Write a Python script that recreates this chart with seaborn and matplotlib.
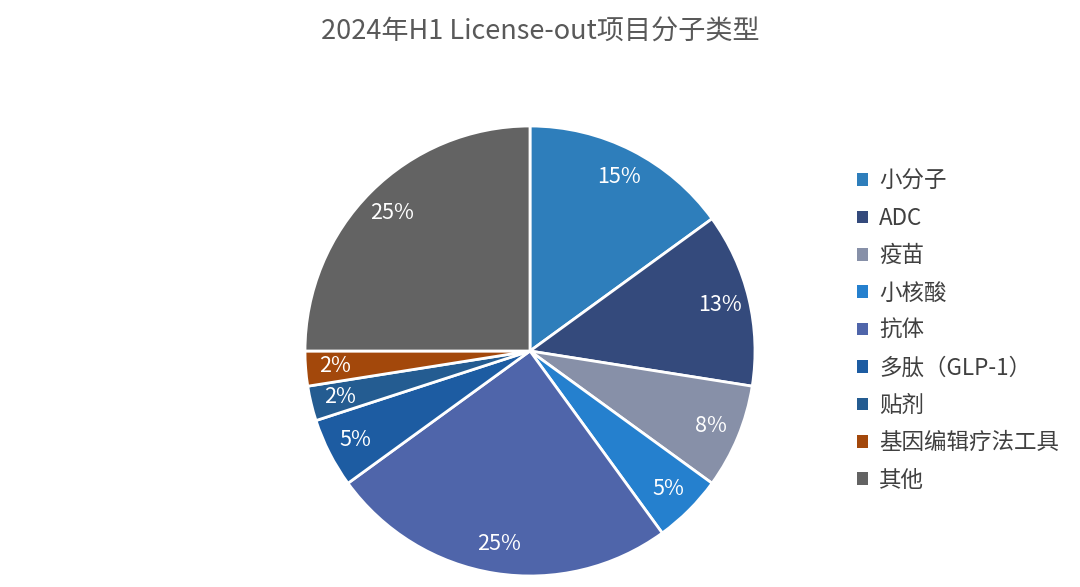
import matplotlib
matplotlib.use("Agg")
import matplotlib.pyplot as plt
from matplotlib.patches import Patch
import seaborn as sns
import math

categories = ["小分子", "ADC", "疫苗", "小核酸", "抗体", "多肽（GLP-1）", "贴剂", "基因编辑疗法工具", "其他"]
counts = [6, 5, 3, 2, 10, 2, 1, 1, 10]
pct_labels = ["15%", "13%", "8%", "5%", "25%", "5%", "2%", "2%", "25%"]
colors_hex = ["#2E7EBB", "#344A7C", "#8790A8", "#2580CE", "#4F65AA", "#1D5CA2", "#245C91", "#A3480B", "#636363"]
title = "2024年H1 License-out项目分子类型"

sns.set_theme(style="white")
plt.rcParams['font.family'] = ['Noto Sans CJK SC', 'DejaVu Sans']
palette = sns.color_palette(colors_hex)

fig = plt.figure(figsize=(10.8, 5.87), dpi=100)
W, H = 1080, 587
cx, cy, r = 530, 351, 225
ax = fig.add_axes([(cx - r) / W, (H - cy - r) / H, 2 * r / W, 2 * r / H])

wedges, _ = ax.pie(counts, colors=palette, startangle=90, counterclock=False,
                   radius=1.0, wedgeprops=dict(edgecolor="white", linewidth=2))
total = sum(counts)
ang = 90.0
for w, c, lab in zip(wedges, counts, pct_labels):
    span = 360.0 * c / total
    mid = math.radians(ang - span / 2)
    ang -= span
    ax.text(0.87 * math.cos(mid), 0.87 * math.sin(mid), lab, ha="center", va="center",
            color="white", fontsize=15.5)
ax.set_xlim(-1, 1)
ax.set_ylim(-1, 1)
ax.set_aspect("equal")
ax.axis("off")

fig.text(540 / W, 1 - 32 / H, title, ha="center", va="center", fontsize=19.5, color="#595959")

handles = [Patch(facecolor=col, edgecolor="none") for col in palette]
leg = fig.legend(handles, categories, loc="upper left", bbox_to_anchor=(857 / W, 1 - 169.5 / H),
                 frameon=False, fontsize=16.2, handlelength=0.48, handleheight=0.48,
                 handletextpad=0.5, labelspacing=0.64, borderaxespad=0, borderpad=0)
for t in leg.get_texts():
    t.set_color("#404040")

fig.savefig("out.png", dpi=100, facecolor="white")
